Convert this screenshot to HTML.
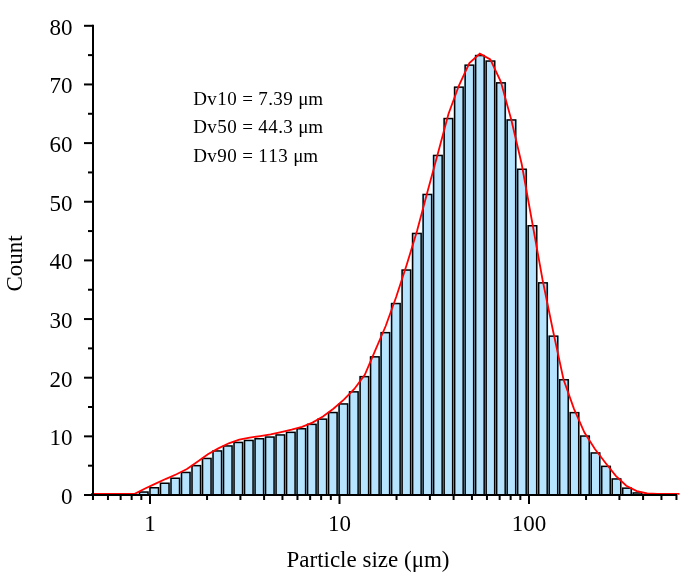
<!DOCTYPE html>
<html><head><meta charset="utf-8"><style>
html,body{margin:0;padding:0;background:#fff;}
svg{display:block;}
text{font-family:"Liberation Serif",serif;fill:#000;}
</style></head><body>
<div style="will-change:transform;width:684px;height:578px"><svg width="684" height="578" viewBox="0 0 684 578">
<g fill="#B6E4FE">
<rect x="138.20" y="491.80" width="11.11" height="3.20"/>
<rect x="148.70" y="487.50" width="11.11" height="7.50"/>
<rect x="159.21" y="483.00" width="11.11" height="12.00"/>
<rect x="169.71" y="478.00" width="11.11" height="17.00"/>
<rect x="180.22" y="472.20" width="11.11" height="22.80"/>
<rect x="190.72" y="465.40" width="11.11" height="29.60"/>
<rect x="201.23" y="458.20" width="11.11" height="36.80"/>
<rect x="211.74" y="450.70" width="11.11" height="44.30"/>
<rect x="222.24" y="445.70" width="11.11" height="49.30"/>
<rect x="232.75" y="442.20" width="11.11" height="52.80"/>
<rect x="243.25" y="440.20" width="11.11" height="54.80"/>
<rect x="253.75" y="438.50" width="11.11" height="56.50"/>
<rect x="264.26" y="436.80" width="11.11" height="58.20"/>
<rect x="274.76" y="434.70" width="11.11" height="60.30"/>
<rect x="285.27" y="432.10" width="11.11" height="62.90"/>
<rect x="295.78" y="428.50" width="11.11" height="66.50"/>
<rect x="306.28" y="424.10" width="11.11" height="70.90"/>
<rect x="316.79" y="418.90" width="11.11" height="76.10"/>
<rect x="327.29" y="412.30" width="11.11" height="82.70"/>
<rect x="337.80" y="403.70" width="11.11" height="91.30"/>
<rect x="348.30" y="391.60" width="11.11" height="103.40"/>
<rect x="358.81" y="376.40" width="11.11" height="118.60"/>
<rect x="369.31" y="356.60" width="11.11" height="138.40"/>
<rect x="379.81" y="332.40" width="11.11" height="162.60"/>
<rect x="390.32" y="303.30" width="11.11" height="191.70"/>
<rect x="400.82" y="269.80" width="11.11" height="225.20"/>
<rect x="411.33" y="233.20" width="11.11" height="261.80"/>
<rect x="421.84" y="194.20" width="11.11" height="300.80"/>
<rect x="432.34" y="155.20" width="11.11" height="339.80"/>
<rect x="442.85" y="118.30" width="11.11" height="376.70"/>
<rect x="453.35" y="86.90" width="11.11" height="408.10"/>
<rect x="463.86" y="64.90" width="11.11" height="430.10"/>
<rect x="474.36" y="55.30" width="11.11" height="439.70"/>
<rect x="484.87" y="60.80" width="11.11" height="434.20"/>
<rect x="495.37" y="82.60" width="11.11" height="412.40"/>
<rect x="505.88" y="119.70" width="11.11" height="375.30"/>
<rect x="516.38" y="169.00" width="11.11" height="326.00"/>
<rect x="526.88" y="225.50" width="11.11" height="269.50"/>
<rect x="537.39" y="282.60" width="11.11" height="212.40"/>
<rect x="547.90" y="335.90" width="11.11" height="159.10"/>
<rect x="558.40" y="379.50" width="11.11" height="115.50"/>
<rect x="568.91" y="412.40" width="11.11" height="82.60"/>
<rect x="579.41" y="435.80" width="11.11" height="59.20"/>
<rect x="589.92" y="452.70" width="11.11" height="42.30"/>
<rect x="600.42" y="466.10" width="11.11" height="28.90"/>
<rect x="610.93" y="478.70" width="11.11" height="16.30"/>
<rect x="621.43" y="487.90" width="11.11" height="7.10"/>
<rect x="631.94" y="492.70" width="11.11" height="2.30"/>
</g>
<g fill="none" stroke="#000" stroke-width="1.5">
<rect x="139.50" y="492.05" width="8.51" height="2.95"/>
<rect x="150.00" y="487.75" width="8.51" height="7.25"/>
<rect x="160.51" y="483.25" width="8.51" height="11.75"/>
<rect x="171.01" y="478.25" width="8.51" height="16.75"/>
<rect x="181.52" y="472.45" width="8.51" height="22.55"/>
<rect x="192.03" y="465.65" width="8.51" height="29.35"/>
<rect x="202.53" y="458.45" width="8.51" height="36.55"/>
<rect x="213.04" y="450.95" width="8.51" height="44.05"/>
<rect x="223.54" y="445.95" width="8.51" height="49.05"/>
<rect x="234.05" y="442.45" width="8.51" height="52.55"/>
<rect x="244.55" y="440.45" width="8.51" height="54.55"/>
<rect x="255.06" y="438.75" width="8.51" height="56.25"/>
<rect x="265.56" y="437.05" width="8.51" height="57.95"/>
<rect x="276.06" y="434.95" width="8.51" height="60.05"/>
<rect x="286.57" y="432.35" width="8.51" height="62.65"/>
<rect x="297.08" y="428.75" width="8.51" height="66.25"/>
<rect x="307.58" y="424.35" width="8.51" height="70.65"/>
<rect x="318.09" y="419.15" width="8.51" height="75.85"/>
<rect x="328.59" y="412.55" width="8.51" height="82.45"/>
<rect x="339.10" y="403.95" width="8.51" height="91.05"/>
<rect x="349.60" y="391.85" width="8.51" height="103.15"/>
<rect x="360.11" y="376.65" width="8.51" height="118.35"/>
<rect x="370.61" y="356.85" width="8.51" height="138.15"/>
<rect x="381.12" y="332.65" width="8.51" height="162.35"/>
<rect x="391.62" y="303.55" width="8.51" height="191.45"/>
<rect x="402.12" y="270.05" width="8.51" height="224.95"/>
<rect x="412.63" y="233.45" width="8.51" height="261.55"/>
<rect x="423.14" y="194.45" width="8.51" height="300.55"/>
<rect x="433.64" y="155.45" width="8.51" height="339.55"/>
<rect x="444.15" y="118.55" width="8.51" height="376.45"/>
<rect x="454.65" y="87.15" width="8.51" height="407.85"/>
<rect x="465.16" y="65.15" width="8.51" height="429.85"/>
<rect x="475.66" y="55.55" width="8.51" height="439.45"/>
<rect x="486.17" y="61.05" width="8.51" height="433.95"/>
<rect x="496.67" y="82.85" width="8.51" height="412.15"/>
<rect x="507.18" y="119.95" width="8.51" height="375.05"/>
<rect x="517.68" y="169.25" width="8.51" height="325.75"/>
<rect x="528.18" y="225.75" width="8.51" height="269.25"/>
<rect x="538.69" y="282.85" width="8.51" height="212.15"/>
<rect x="549.20" y="336.15" width="8.51" height="158.85"/>
<rect x="559.70" y="379.75" width="8.51" height="115.25"/>
<rect x="570.21" y="412.65" width="8.51" height="82.35"/>
<rect x="580.71" y="436.05" width="8.51" height="58.95"/>
<rect x="591.22" y="452.95" width="8.51" height="42.05"/>
<rect x="601.72" y="466.35" width="8.51" height="28.65"/>
<rect x="612.23" y="478.95" width="8.51" height="16.05"/>
<rect x="622.73" y="488.15" width="8.51" height="6.85"/>
<rect x="633.24" y="492.95" width="8.51" height="2.05"/>
</g>

<path d="M91.00,493.90 L103.29,493.90 L113.75,493.90 L124.21,493.90 L134.67,493.80 L145.13,488.50 L155.59,483.60 L166.05,478.80 L176.51,474.30 L186.97,469.00 L197.43,461.80 L207.89,454.30 L218.35,448.40 L228.81,443.30 L239.27,439.70 L249.73,437.60 L260.19,436.10 L270.65,434.40 L281.11,432.10 L291.57,429.60 L302.03,426.80 L312.49,422.60 L322.95,416.50 L333.41,408.80 L343.87,399.70 L354.33,389.00 L364.79,374.80 L375.25,350.30 L385.71,326.00 L396.17,297.00 L406.63,265.00 L417.09,230.70 L427.55,191.50 L438.01,153.00 L448.47,114.00 L458.93,85.50 L469.39,63.00 L479.85,53.70 L490.31,59.40 L500.77,81.60 L511.23,119.50 L521.69,164.00 L532.15,222.00 L542.61,280.00 L553.07,331.00 L563.53,379.50 L573.99,408.80 L584.45,432.50 L594.91,449.00 L605.37,462.70 L615.83,475.80 L626.29,485.70 L636.75,491.10 L647.21,493.50 L657.67,493.90 L668.13,493.90 L679.50,493.90" fill="none" stroke="#FF0000" stroke-width="1.8"/>
<g stroke="#000" stroke-width="2" fill="none">
<line x1="93" y1="24.8" x2="93" y2="499.5"/>
<line x1="84" y1="495" x2="677" y2="495"/>
<line x1="84" y1="495.00" x2="93" y2="495.00"/>
<line x1="88" y1="465.68" x2="93" y2="465.68"/>
<line x1="84" y1="436.35" x2="93" y2="436.35"/>
<line x1="88" y1="407.02" x2="93" y2="407.02"/>
<line x1="84" y1="377.70" x2="93" y2="377.70"/>
<line x1="88" y1="348.38" x2="93" y2="348.38"/>
<line x1="84" y1="319.05" x2="93" y2="319.05"/>
<line x1="88" y1="289.73" x2="93" y2="289.73"/>
<line x1="84" y1="260.40" x2="93" y2="260.40"/>
<line x1="88" y1="231.07" x2="93" y2="231.07"/>
<line x1="84" y1="201.75" x2="93" y2="201.75"/>
<line x1="88" y1="172.43" x2="93" y2="172.43"/>
<line x1="84" y1="143.10" x2="93" y2="143.10"/>
<line x1="88" y1="113.77" x2="93" y2="113.77"/>
<line x1="84" y1="84.45" x2="93" y2="84.45"/>
<line x1="88" y1="55.12" x2="93" y2="55.12"/>
<line x1="84" y1="25.80" x2="93" y2="25.80"/>
<line x1="92.95" y1="495" x2="92.95" y2="500"/>
<line x1="107.96" y1="495" x2="107.96" y2="500"/>
<line x1="120.65" y1="495" x2="120.65" y2="500"/>
<line x1="131.64" y1="495" x2="131.64" y2="500"/>
<line x1="141.33" y1="495" x2="141.33" y2="500"/>
<line x1="150.00" y1="495" x2="150.00" y2="504"/>
<line x1="207.05" y1="495" x2="207.05" y2="500"/>
<line x1="240.41" y1="495" x2="240.41" y2="500"/>
<line x1="264.09" y1="495" x2="264.09" y2="500"/>
<line x1="282.45" y1="495" x2="282.45" y2="500"/>
<line x1="297.46" y1="495" x2="297.46" y2="500"/>
<line x1="310.15" y1="495" x2="310.15" y2="500"/>
<line x1="321.14" y1="495" x2="321.14" y2="500"/>
<line x1="330.83" y1="495" x2="330.83" y2="500"/>
<line x1="339.50" y1="495" x2="339.50" y2="504"/>
<line x1="396.55" y1="495" x2="396.55" y2="500"/>
<line x1="429.91" y1="495" x2="429.91" y2="500"/>
<line x1="453.59" y1="495" x2="453.59" y2="500"/>
<line x1="471.95" y1="495" x2="471.95" y2="500"/>
<line x1="486.96" y1="495" x2="486.96" y2="500"/>
<line x1="499.65" y1="495" x2="499.65" y2="500"/>
<line x1="510.64" y1="495" x2="510.64" y2="500"/>
<line x1="520.33" y1="495" x2="520.33" y2="500"/>
<line x1="529.00" y1="495" x2="529.00" y2="504"/>
<line x1="586.05" y1="495" x2="586.05" y2="500"/>
<line x1="619.41" y1="495" x2="619.41" y2="500"/>
<line x1="643.09" y1="495" x2="643.09" y2="500"/>
<line x1="661.45" y1="495" x2="661.45" y2="500"/>
<line x1="676.46" y1="495" x2="676.46" y2="500"/>
</g>
<g font-size="23">
<text x="72.5" y="504.00" text-anchor="end">0</text><text x="72.5" y="445.35" text-anchor="end">10</text><text x="72.5" y="386.70" text-anchor="end">20</text><text x="72.5" y="328.05" text-anchor="end">30</text><text x="72.5" y="269.40" text-anchor="end">40</text><text x="72.5" y="210.75" text-anchor="end">50</text><text x="72.5" y="152.10" text-anchor="end">60</text><text x="72.5" y="93.45" text-anchor="end">70</text><text x="72.5" y="34.80" text-anchor="end">80</text>
<text x="150.00" y="531" text-anchor="middle">1</text><text x="339.50" y="531" text-anchor="middle">10</text><text x="529.00" y="531" text-anchor="middle">100</text>
</g>
<text x="368" y="567" font-size="23" text-anchor="middle">Particle size (&#956;m)</text>
<text transform="translate(22,263.5) rotate(-90)" font-size="23" text-anchor="middle">Count</text>
<text x="193.3 207.3 217.3 227.3 237.3 242.3 253.3 258.3 268.3 273.3 283.3 293.3 298.3 308.3" y="105.2" font-size="19">Dv10 = 7.39 &#956;m</text>
<text x="193.3 207.3 217.3 227.3 237.3 242.3 253.3 258.3 268.3 278.3 283.3 293.3 298.3 308.3" y="133.3" font-size="19">Dv50 = 44.3 &#956;m</text>
<text x="193.3 207.3 217.3 227.3 237.3 242.3 253.3 258.3 268.3 278.3 288.3 293.3 303.3" y="161.8" font-size="19">Dv90 = 113 &#956;m</text>
</svg></div>
</body></html>
